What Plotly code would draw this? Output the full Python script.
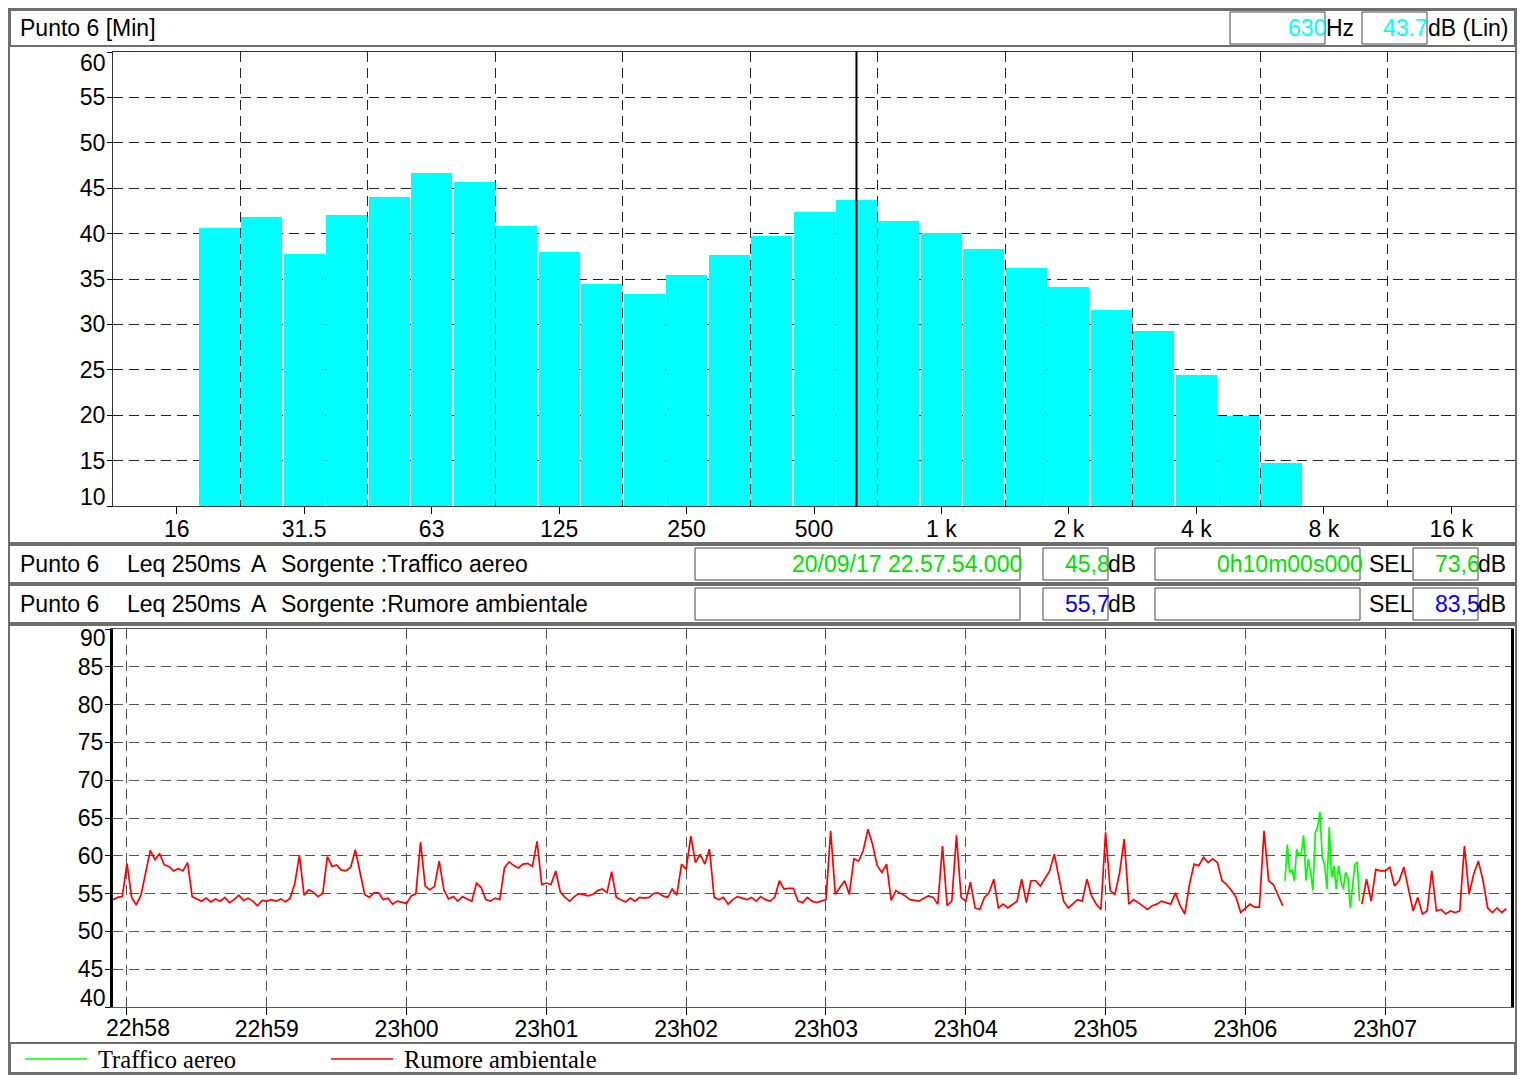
import plotly.graph_objects as go
import pandas as pd

# ---------------- data ----------------
bands = ["16", "20", "25", "31.5", "40", "50", "63", "80", "100", "125", "160",
         "200", "250", "315", "400", "500", "630", "800", "1 k", "1.25 k", "1.6 k",
         "2 k", "2.5 k", "3.15 k", "4 k", "5 k", "6.3 k", "8 k", "10 k", "12.5 k", "16 k"]
bar_bands = ["20", "25", "31.5", "40", "50", "63", "80", "100", "125", "160",
             "200", "250", "315", "400", "500", "630", "800", "1 k", "1.25 k", "1.6 k",
             "2 k", "2.5 k", "3.15 k", "4 k", "5 k", "6.3 k"]
bar_levels = [40.6, 41.8, 37.8, 42.0, 44.0, 46.7, 45.7, 40.8, 38.0, 34.4,
              33.4, 35.4, 37.6, 39.7, 42.4, 43.7, 41.4, 40.1, 38.3, 36.2,
              34.1, 31.6, 29.3, 24.4, 19.9, 14.7]
octave_labels = ["16", "31.5", "63", "125", "250", "500", "1 k", "2 k", "4 k", "8 k", "16 k"]
cursor_band = "630"
spec_yticks = [10, 15, 20, 25, 30, 35, 40, 45, 50, 55, 60]

start_time = "2017-09-20 22:57:54"
end_time = "2017-09-20 23:07:54"
minute_ticks = ["2017-09-20 22:58:00", "2017-09-20 22:59:00", "2017-09-20 23:00:00",
                "2017-09-20 23:01:00", "2017-09-20 23:02:00", "2017-09-20 23:03:00",
                "2017-09-20 23:04:00", "2017-09-20 23:05:00", "2017-09-20 23:06:00",
                "2017-09-20 23:07:00"]
minute_labels = ["22h58", "22h59", "23h00", "23h01", "23h02", "23h03",
                 "23h04", "23h05", "23h06", "23h07"]
time_yticks = [40, 45, 50, 55, 60, 65, 70, 75, 80, 85, 90]

# Rumore ambientale, one reading every 2 s
rumore = [
    54.2, 54.5, 54.6, 59.0, 54.5, 53.5, 54.8, 57.6, 60.7, 59.5,
    60.3, 58.8, 58.6, 58.0, 58.3, 58.0, 59.1, 54.6, 54.3, 54.0,
    54.4, 53.9, 54.3, 54.0, 54.5, 53.8, 54.2, 54.8, 54.1, 54.4,
    54.0, 53.4, 54.1, 54.0, 54.2, 54.0, 54.3, 53.9, 54.4, 56.3,
    60.1, 54.8, 55.5, 55.2, 54.6, 55.0, 59.9, 58.6, 58.8, 58.1,
    58.0, 58.5, 60.8, 57.6, 54.9, 54.5, 55.1, 55.1, 54.2, 54.4,
    53.6, 54.0, 53.8, 53.7, 54.7, 55.0, 61.8, 56.0, 55.5, 56.0,
    59.3, 55.5, 54.3, 54.6, 54.0, 54.6, 54.3, 54.0, 56.4, 55.8,
    54.2, 54.0, 54.4, 54.2, 58.4, 59.2, 58.7, 58.4, 58.9, 59.0,
    58.6, 61.9, 56.2, 56.4, 56.2, 58.0, 55.2, 54.5, 54.0, 54.6,
    55.0, 54.9, 54.7, 54.9, 55.4, 55.6, 55.1, 57.9, 54.5, 54.2,
    53.9, 54.4, 54.0, 54.5, 54.4, 54.5, 55.0, 55.1, 54.7, 54.5,
    55.6, 54.8, 58.9, 58.2, 62.6, 59.1, 60.2, 58.9, 60.9, 54.5,
    54.2, 54.5, 53.6, 54.2, 54.6, 54.4, 54.2, 54.5, 54.0, 54.6,
    54.2, 54.0, 54.5, 56.7, 55.6, 55.7, 55.7, 54.0, 53.8, 54.5,
    54.0, 53.8, 54.0, 54.2, 63.3, 54.9, 55.8, 56.7, 54.9, 59.6,
    59.3, 60.7, 63.5, 61.5, 58.7, 57.8, 58.9, 54.1, 55.4, 55.1,
    54.7, 54.2, 54.1, 54.0, 54.4, 54.7, 54.5, 53.6, 61.3, 53.4,
    54.0, 62.7, 54.5, 54.0, 56.5, 53.1, 52.9, 54.5, 55.1, 56.9,
    53.1, 53.6, 53.1, 53.6, 54.0, 56.9, 53.8, 56.7, 56.7, 56.0,
    57.1, 58.0, 60.2, 56.9, 54.0, 53.1, 53.6, 54.2, 54.0, 56.9,
    54.7, 53.6, 52.9, 63.1, 55.4, 54.9, 57.7, 62.2, 53.6, 54.2,
    53.8, 53.4, 52.9, 53.4, 53.6, 54.0, 53.8, 53.6, 55.1, 53.4,
    52.3, 56.2, 58.9, 58.7, 59.8, 59.1, 59.6, 59.1, 56.7, 56.2,
    55.4, 54.5, 52.5, 53.1, 53.6, 53.2, 53.2, 63.3, 56.7, 56.2,
    54.9, 53.4, None, None, None, None, None, None, None, None,
    None, None, None, None, None, None, None, None, 53.6, 56.9,
    54.0, 58.2, 58.0, 58.0, 58.5, 56.0, 56.7, 58.5, 55.6, 52.7,
    54.5, 52.3, 52.7, 58.0, 52.7, 52.9, 52.3, 52.7, 52.5, 52.7,
    61.3, 54.9, 57.6, 59.3, 56.7, 53.1, 52.5, 53.1, 52.5, 53.0,
]
# Traffico aereo, one reading every second from 23:06:17
traffico_start = "2017-09-20 23:06:17"
traffico = [
    56.7, 61.5, 57.8, 58.2, 56.7, 60.9, 60.0, 60.4, 62.7, 56.7,
    59.6, 57.8, 55.4, 63.1, 63.8, 65.8, 59.8, 58.9, 55.6, 63.8,
    57.1, 58.7, 55.6, 58.7, 56.7, 55.6, 57.8, 57.1, 53.1, 56.5,
    58.9, 59.1, 54.0,
]

# ---------------- figure ----------------
W, H = 1523, 1076
FONT = "Liberation Sans, Arial, Helvetica, sans-serif"
SERIF = "Liberation Serif, Times New Roman, serif"
FS = 23


def px(x):
    return x / W


def py(y):
    return 1 - y / H


fig = go.Figure()

bar_x = [bands.index(b) for b in bar_bands]
fig.add_trace(go.Bar(x=bar_x, y=bar_levels, width=0.965,
                     marker=dict(color="#00FFFF", line=dict(width=0)),
                     xaxis="x", yaxis="y", showlegend=False, hoverinfo="x+y"))

rum_t = pd.date_range(start_time, periods=len(rumore), freq="2s")
tra_t = pd.date_range(traffico_start, periods=len(traffico), freq="1s")
fig.add_trace(go.Scatter(x=rum_t, y=rumore, mode="lines", name="Rumore ambientale",
                         line=dict(color="#FF0000", width=1.7), connectgaps=False,
                         xaxis="x2", yaxis="y2", showlegend=False))
fig.add_trace(go.Scatter(x=tra_t, y=traffico, mode="lines", name="Traffico aereo",
                         line=dict(color="#00FF00", width=1.7),
                         xaxis="x2", yaxis="y2", showlegend=False))

oct_idx = [bands.index(l) for l in octave_labels]
grid_top = "#222222"
grid_bot = "#555555"
tickfont = dict(family=FONT, size=FS, color="black")


def inner_labels(vals):
    # end labels are drawn separately, nudged inside the plot like the original
    return [""] + [str(v) for v in vals[1:-1]] + [""]


fig.update_layout(
    template="none",
    width=W, height=H, margin=dict(l=0, r=0, t=0, b=0, pad=0, autoexpand=False),
    paper_bgcolor="white", plot_bgcolor="white",
    bargap=0, showlegend=False,
    xaxis=dict(domain=[px(113), px(1515)], range=[-1.5, 31.5], automargin=False,
               tickvals=oct_idx, ticktext=octave_labels, ticklabelstandoff=-5,
               ticks="outside", ticklen=7, tickcolor="black", tickfont=tickfont,
               showgrid=False, zeroline=False,
               showline=True, linecolor="#333333", linewidth=1, mirror=True,
               minor=dict(tickvals=[i + 1.5 for i in oct_idx[:-1]], showgrid=True,
                          gridcolor=grid_top, griddash="10px,6px", gridwidth=1, ticks="")),
    yaxis=dict(domain=[py(506), py(52)], range=[10, 60], automargin=False,
               tickvals=spec_yticks, ticktext=inner_labels(spec_yticks), ticklabelstandoff=-3,
               ticks="outside", ticklen=5, tickcolor="black", tickfont=tickfont,
               showgrid=True, gridcolor=grid_top, griddash="10px,6px", gridwidth=1,
               zeroline=False, showline=True, linecolor="#333333", linewidth=1, mirror=True),
    xaxis2=dict(domain=[px(113), px(1511)], type="date", automargin=False,
                range=[start_time, end_time],
                tickvals=minute_ticks, ticktext=[""] + minute_labels[1:], ticklabelstandoff=-6,
                ticks="outside", ticklen=7, tickcolor="black", tickfont=tickfont,
                showgrid=True, gridcolor=grid_bot, griddash="10px,6px", gridwidth=1,
                zeroline=False, showline=True, linecolor="#555555", linewidth=1, mirror=True,
                anchor="y2"),
    yaxis2=dict(domain=[py(1007), py(629)], range=[40, 90], automargin=False,
                tickvals=time_yticks, ticktext=inner_labels(time_yticks), ticklabelstandoff=-3,
                ticks="outside", ticklen=5, tickcolor="black", tickfont=tickfont,
                showgrid=True, gridcolor=grid_bot, griddash="10px,6px", gridwidth=1,
                zeroline=False, showline=True, linecolor="black", linewidth=3, mirror=True,
                anchor="x2"),
)

shapes = []
frame = "#6e6e6e"


def rect(x0, y0, x1, y1, color=frame, width=2):
    shapes.append(dict(type="rect", xref="paper", yref="paper",
                       x0=px(x0), x1=px(x1), y0=py(y1), y1=py(y0),
                       line=dict(color=color, width=width), fillcolor="rgba(0,0,0,0)",
                       layer="above"))


# outer frames
rect(9, 9, 1516, 543)
rect(10, 10, 1515, 46)
rect(9, 545, 1516, 583)
rect(9, 585, 1516, 623)
rect(9, 625, 1516, 1074)
rect(10, 1043, 1515, 1073)
# header value boxes
rect(1230, 12, 1325, 44, "#444444", 1)
rect(1362, 12, 1427, 44, "#444444", 1)
for y0, y1 in [(548, 580), (588, 620)]:
    rect(695, y0, 1020, y1, "#444444", 1)
    rect(1043, y0, 1108, y1, "#444444", 1)
    rect(1155, y0, 1360, y1, "#444444", 1)
    rect(1413, y0, 1478, y1, "#444444", 1)

# cursor at selected band
cx = bands.index(cursor_band)
shapes.append(dict(type="line", xref="x", yref="y domain", x0=cx, x1=cx, y0=0, y1=1,
                   line=dict(color="black", width=2)))

# legend lines
shapes.append(dict(type="line", xref="paper", yref="paper", x0=px(25), x1=px(87),
                   y0=py(1059), y1=py(1059), line=dict(color="#00FF00", width=1.6)))
shapes.append(dict(type="line", xref="paper", yref="paper", x0=px(331), x1=px(393),
                   y0=py(1059), y1=py(1059), line=dict(color="#FF0000", width=1.6)))

annotations = []


def text(x, y, s, anchor="left", color="black", family=FONT, size=FS):
    annotations.append(dict(xref="paper", yref="paper", x=px(x), y=py(y), text=s,
                            showarrow=False, xanchor=anchor, yanchor="middle",
                            borderpad=0,
                            font=dict(family=family, size=size, color=color)))


def end_label(s, yref, ydom, yshift):
    annotations.append(dict(xref="paper", yref=yref, x=px(107), y=ydom, text=s,
                            showarrow=False, xanchor="right", yanchor="middle",
                            yshift=yshift, borderpad=0,
                            font=dict(family=FONT, size=FS, color="black")))


end_label(str(spec_yticks[-1]), "y domain", 1, -11)
end_label(str(spec_yticks[0]), "y domain", 0, 9)
end_label(str(time_yticks[-1]), "y2 domain", 1, -9)
end_label(str(time_yticks[0]), "y2 domain", 0, 9)
annotations.append(dict(xref="x2", yref="paper", x=minute_ticks[0], y=py(1028),
                        text=minute_labels[0], showarrow=False, xanchor="center",
                        yanchor="middle", xshift=11, borderpad=0,
                        font=dict(family=FONT, size=FS, color="black")))

text(19, 28, "Punto 6 [Min]")
text(1327, 28, "630", "right", "#00FFFF")
text(1325, 28, "Hz")
text(1429, 28, "43.7", "right", "#00FFFF")
text(1427, 28, "dB (Lin)")

for y, src in [(564, "Traffico aereo"), (604, "Rumore ambientale")]:
    text(19, y, "Punto 6")
    text(126, y, "Leq 250ms")
    text(250, y, "A")
    text(280, y, "Sorgente :" + src)
    text(1368, y, "SEL")

text(1023, 564, "20/09/17 22.57.54.000", "right", "#00E000")
text(1111, 564, "45,8", "right", "#00E000")
text(1107, 564, "dB")
text(1364, 564, "0h10m00s000", "right", "#00E000")
text(1481, 564, "73,6", "right", "#00E000")
text(1477, 564, "dB")

text(1111, 604, "55,7", "right", "#0000FF")
text(1107, 604, "dB")
text(1481, 604, "83,5", "right", "#0000FF")
text(1477, 604, "dB")

text(97, 1059, "Traffico aereo", family=SERIF, size=24.5)
text(403, 1059, "Rumore ambientale", family=SERIF, size=24.5)

fig.update_layout(shapes=shapes, annotations=annotations)

fig.write_html("out.html", config={"displayModeBar": False},
               post_script="document.body.style.margin='0';document.body.style.overflow='hidden';")
